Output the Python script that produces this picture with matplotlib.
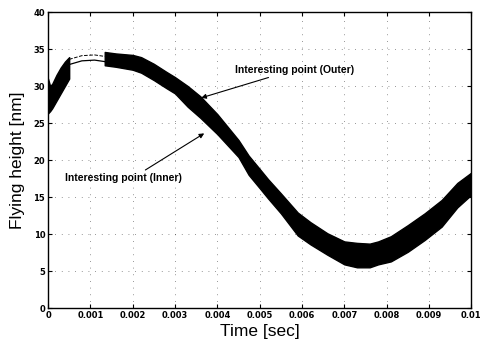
import numpy as np
import matplotlib
matplotlib.use("Agg")
import matplotlib.pyplot as plt

# start-up segment (noisy band)
t_start = [0.0, 0.00005, 0.0001, 0.0002, 0.0003, 0.0004, 0.0005]
lo_start = [26.3, 26.6, 27.0, 28.0, 29.0, 30.0, 31.0]
hi_start = [31.0, 30.0, 30.3, 31.5, 32.5, 33.3, 33.9]

# gap segment: two thin curves (outer dashed, inner solid)
t_gap = [0.0005, 0.0008, 0.0011, 0.00134]
gap_outer = [33.6, 34.1, 34.2, 34.0]
gap_inner = [32.9, 33.4, 33.5, 33.3]

# main noisy band
t_main = [0.00134, 0.0016, 0.0020, 0.0022, 0.0025, 0.0028, 0.0030, 0.0033,
          0.0036, 0.0040, 0.0045, 0.00474, 0.0050, 0.0052, 0.0055, 0.0059,
          0.0062, 0.0066, 0.0070, 0.0073, 0.0076, 0.0078, 0.0081, 0.0085,
          0.0089, 0.0093, 0.00967, 0.0100]
lo_main = [32.8, 32.6, 32.2, 31.8, 30.8, 29.7, 29.0, 27.2,
           25.7, 23.5, 20.4, 18.0, 16.2, 14.8, 12.8, 9.8,
           8.6, 7.2, 5.9, 5.5, 5.5, 5.9, 6.3, 7.6,
           9.2, 11.0, 13.6, 15.3]
hi_main = [34.6, 34.4, 34.2, 33.9, 33.0, 31.9, 31.2, 30.0,
           28.6, 26.2, 22.7, 20.6, 18.8, 17.4, 15.5, 12.9,
           11.6, 10.1, 9.0, 8.8, 8.7, 9.0, 9.7, 11.2,
           12.8, 14.6, 16.9, 18.3]

fig = plt.figure(figsize=(4.81, 3.43), dpi=100)
ax = fig.add_axes([0.0998, 0.102, 0.880, 0.863])

ax.fill_between(t_start, lo_start, hi_start, color="black", lw=1.0)
ax.plot(t_gap, gap_outer, color="black", lw=0.7, ls="--")
ax.plot(t_gap, gap_inner, color="black", lw=0.9)
ax.fill_between(t_main, lo_main, hi_main, color="black", lw=1.0)

ax.set_xlim(0, 0.01)
ax.set_ylim(0, 40)
ax.set_xticks(np.arange(0, 0.0101, 0.001))
ax.set_xticklabels(["0", "0.001", "0.002", "0.003", "0.004", "0.005",
                    "0.006", "0.007", "0.008", "0.009", "0.01"])
ax.set_yticks(np.arange(0, 41, 5))
ax.grid(True, color="black", ls=(0, (1, 7)), lw=0.6, alpha=0.55)
ax.tick_params(direction="in", top=True, right=True, length=3, width=0.8,
               labelsize=6, pad=2)
for lab in ax.get_xticklabels() + ax.get_yticklabels():
    lab.set_fontweight("bold")
for s in ax.spines.values():
    s.set_linewidth(1.0)

ax.set_xlabel("Time [sec]", fontsize=12.5, family="Liberation Sans", labelpad=3)
ax.set_ylabel("Flying height [nm]", fontsize=12.5, family="Liberation Sans",
              labelpad=6)

ax.annotate("Interesting point (Outer)", xy=(0.00362, 28.4),
            xytext=(0.00441, 32.2), fontsize=7.5, fontweight="bold",
            family="Liberation Sans", va="center",
            arrowprops=dict(arrowstyle="-|>", color="black", lw=0.8,
                            mutation_scale=7, shrinkA=0, shrinkB=0))
ax.annotate("Interesting point (Inner)", xy=(0.00369, 23.6),
            xytext=(0.0004, 17.6), fontsize=7.5, fontweight="bold",
            family="Liberation Sans", va="center",
            arrowprops=dict(arrowstyle="-|>", color="black", lw=0.8,
                            mutation_scale=7, shrinkA=0, shrinkB=0,
                            relpos=(0.65, 1.0)))

fig.savefig("out.png", dpi=100)
